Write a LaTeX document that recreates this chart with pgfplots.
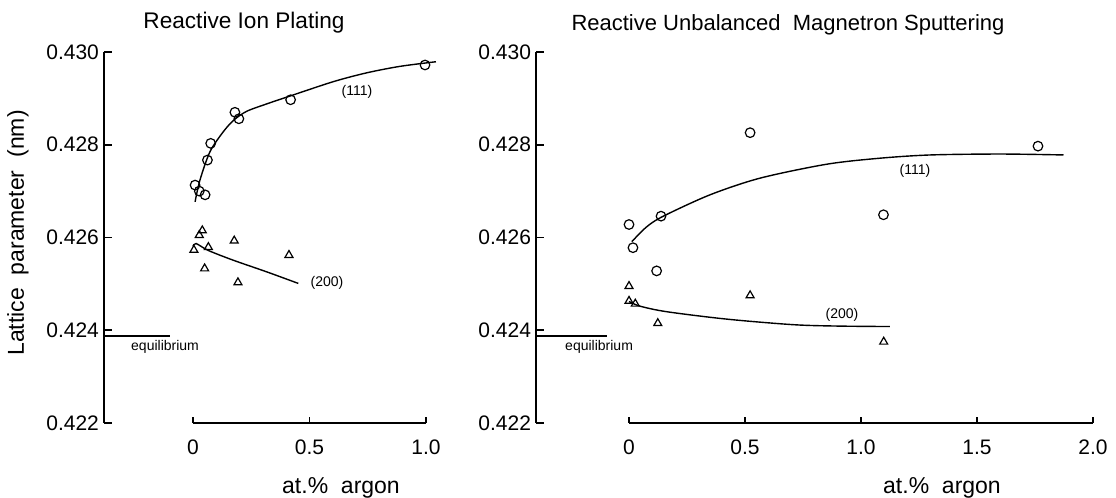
\documentclass[border=0pt]{standalone}
\usepackage{fontspec}
\setmainfont{Liberation Sans}
\usepackage{pgfplots}
\pgfplotsset{compat=1.18}

\pgfplotsset{
  yonly/.style={
    scale only axis, height=185.5pt, ymin=0.422, ymax=0.430, clip=false,
    axis x line=none, axis y line=left,
    axis line style={-, line width=0.9pt},
    ytick={0.422,0.424,0.426,0.428,0.430},
    yticklabels={0.422,0.424,0.426,0.428,0.430},
    scaled y ticks=false,
    tick align=inside, major tick length=4pt,
    tick style={line width=0.9pt, black},
    yticklabel style={font=\fontsize{10.5}{12}\selectfont, xshift=1pt},
  },
  xonly/.style={
    scale only axis, height=185.5pt, ymin=0.422, ymax=0.430,
    axis y line=none, axis x line=bottom,
    axis line style={-, line width=0.9pt},
    ytick=\empty,
    tick align=inside, major tick length=3pt,
    tick style={line width=0.9pt, black},
    xticklabel style={font=\fontsize{10.5}{12}\selectfont, yshift=-5pt},
  },
  circ/.style={only marks, mark=o, mark size=2.4pt, mark options={line width=0.6pt}},
  tri/.style={only marks, mark=triangle, mark size=2.3pt, mark options={line width=0.6pt}},
  fit/.style={no marks, smooth, tension=0.5, line width=0.7pt},
}
\tikzset{lbl/.style={font=\fontsize{7}{8}\selectfont}}

\begin{document}
\begin{tikzpicture}
\useasboundingbox (0,0) rectangle (558pt,249pt);

% ---- left panel: reactive ion plating
\begin{axis}[yonly, at={(52pt,37.5pt)}, anchor=south west, width=166.8pt, xmin=-0.382, xmax=1.05]
\addplot[circ] coordinates {
(0.009,0.42713) (0.027,0.42700) (0.052,0.42692) (0.062,0.42767) (0.076,0.42803)
(0.180,0.42870) (0.197,0.42856) (0.419,0.42897) (0.996,0.42972)
};
\addplot[tri] coordinates {
(0.040,0.42615) (0.027,0.42605) (0.004,0.42573) (0.066,0.42579)
(0.050,0.42533) (0.177,0.42593) (0.193,0.42503) (0.412,0.42562)
};
\addplot[fit] coordinates {
(0.009,0.42677) (0.030,0.42724) (0.073,0.42785) (0.130,0.42828) (0.175,0.42853)
(0.230,0.42872) (0.316,0.42888) (0.416,0.42905) (0.602,0.42936) (0.745,0.42955)
(0.888,0.42969) (1.043,0.42979)
};
\addplot[fit] coordinates {
(0.000,0.42581) (0.013,0.42587) (0.066,0.42572) (0.173,0.42551) (0.316,0.42526) (0.452,0.42501)
};
\addplot[no marks, line width=0.7pt] coordinates {(-0.382,0.42388) (-0.099,0.42388)};
\node[lbl] at (axis cs:0.704,0.42914) {(111)};
\node[lbl] at (axis cs:0.575,0.42502) {(200)};
\node[lbl] at (axis cs:-0.12,0.42364) {equilibrium};
\end{axis}
\begin{axis}[xonly, at={(96.5pt,37.5pt)}, anchor=south west, width=116.5pt, xmin=0, xmax=1,
  xtick={0,0.5,1}, xticklabels={0,0.5,1.0}]
\end{axis}

% ---- right panel: reactive unbalanced magnetron sputtering
\begin{axis}[yonly, at={(268pt,37.5pt)}, anchor=south west, width=280.8pt, xmin=-0.401, xmax=2.02]
\addplot[circ] coordinates {
(0.000,0.42628) (0.017,0.42578) (0.138,0.42646) (0.119,0.42528)
(0.522,0.42826) (1.097,0.42649) (1.763,0.42797)
};
\addplot[tri] coordinates {
(0.000,0.42495) (0.000,0.42463) (0.027,0.42457) (0.124,0.42415)
(0.522,0.42475) (1.098,0.42375)
};
\addplot[fit] coordinates {
(0.012,0.42591) (0.076,0.42623) (0.148,0.42646) (0.349,0.42692) (0.565,0.42728)
(0.852,0.42758) (1.082,0.42771) (1.300,0.42778) (1.600,0.42780) (1.873,0.42778)
};
\addplot[fit] coordinates {
(0.000,0.42462) (0.047,0.42452) (0.162,0.42440) (0.421,0.42424) (0.708,0.42412)
(0.900,0.42409) (1.124,0.42408)
};
\addplot[no marks, line width=0.7pt] coordinates {(-0.401,0.42388) (-0.095,0.42388)};
\node[lbl] at (axis cs:1.233,0.42743) {(111)};
\node[lbl] at (axis cs:0.918,0.42433) {(200)};
\node[lbl] at (axis cs:-0.129,0.42364) {equilibrium};
\end{axis}
\begin{axis}[xonly, at={(314.5pt,37.5pt)}, anchor=south west, width=232pt, xmin=0, xmax=2,
  xtick={0,0.5,1,1.5,2}, xticklabels={0,0.5,1.0,1.5,2.0}]
\end{axis}

% ---- titles and axis labels
\node[font=\fontsize{11.3}{13}\selectfont] at (122pt,237.5pt) {Reactive Ion Plating};
\node[font=\fontsize{11}{13}\selectfont] at (394pt,236.5pt) {Reactive Unbalanced\ \ Magnetron Sputtering};
\node[rotate=90, font=\fontsize{11.5}{13}\selectfont] at (9pt,132.5pt) {Lattice\ \ parameter\ \ (nm)};
\node[font=\fontsize{11.5}{13}\selectfont] at (170.5pt,5pt) {at.\%\ \ argon};
\node[font=\fontsize{11.5}{13}\selectfont] at (471pt,5pt) {at.\%\ \ argon};
\end{tikzpicture}
\end{document}
